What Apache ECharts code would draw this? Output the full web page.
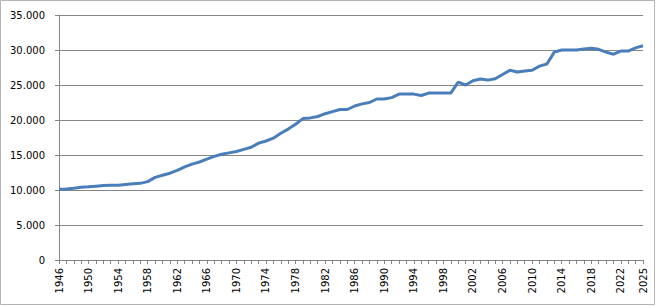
<!DOCTYPE html>
<html>
<head>
<meta charset="utf-8">
<script src="https://cdn.jsdelivr.net/npm/echarts@6/dist/echarts.min.js"></script>
<style>
html,body{margin:0;padding:0;background:#fff;}
#c{width:659px;height:306px;}
</style>
</head>
<body>
<div id="c"></div>
<script>
const years = [];
for (let y = 1946; y <= 2025; y++) years.push(String(y));
const values = [
  10100, 10150, 10250, 10400, 10450, 10550, 10650, 10680, 10680, 10800,
  10900, 10950, 11200, 11800, 12100, 12400, 12800, 13300, 13700, 14000,
  14400, 14800, 15100, 15300, 15500, 15800, 16100, 16700, 17000, 17400,
  18100, 18700, 19400, 20200, 20300, 20500, 20900, 21200, 21500, 21500,
  22000, 22300, 22500, 23000, 23000, 23200, 23700, 23700, 23700, 23500,
  23850, 23850, 23850, 23850, 25400, 25000, 25600, 25850, 25700, 25900,
  26500, 27100, 26850, 27000, 27100, 27700, 28000, 29700, 30000, 30000,
  30000, 30150, 30250, 30100, 29700, 29400, 29850, 29850, 30300, 30600
];

const chart = echarts.init(document.getElementById('c'), null, {renderer: 'svg'});
const fmt = v => v === 0 ? '0' : String(v).replace(/\B(?=(\d{3})+(?!\d))/g, '.');
chart.setOption({
  animation: false,
  backgroundColor: '#fff',
  grid: {left: 59, right: 16, top: 15, bottom: 46, containLabel: false},
  graphic: [{
    type: 'rect', silent: true,
    shape: {x: 0.5, y: 0.5, width: 654, height: 304},
    style: {fill: 'none', stroke: '#b4b4b4', lineWidth: 1}
  }],
  xAxis: {
    type: 'category',
    data: years,
    boundaryGap: false,
    axisLine: {lineStyle: {color: '#868686', width: 1}},
    axisTick: {show: true, interval: 0, length: 4, lineStyle: {color: '#868686'}},
    axisLabel: {
      rotate: 90,
      margin: 8,
      color: '#000',
      fontFamily: 'DejaVu Sans',
      fontSize: 10,
      interval: (i) => i % 4 === 0 || i === years.length - 1,
      hideOverlap: false
    },
    splitLine: {show: false}
  },
  yAxis: {
    type: 'value',
    min: 0, max: 35000, interval: 5000,
    axisLine: {show: true, lineStyle: {color: '#868686', width: 1}},
    axisTick: {show: true, length: 4, lineStyle: {color: '#868686'}},
    axisLabel: {
      margin: 14,
      color: '#000',
      fontFamily: 'DejaVu Sans',
      fontSize: 10,
      formatter: fmt
    },
    splitLine: {show: true, lineStyle: {color: '#868686', width: 1}}
  },
  series: [{
    type: 'line',
    data: values,
    showSymbol: false,
    symbol: 'none',
    lineStyle: {color: '#4A7EBB', width: 3},
    itemStyle: {color: '#4A7EBB'}
  }]
});
</script>
</body>
</html>
